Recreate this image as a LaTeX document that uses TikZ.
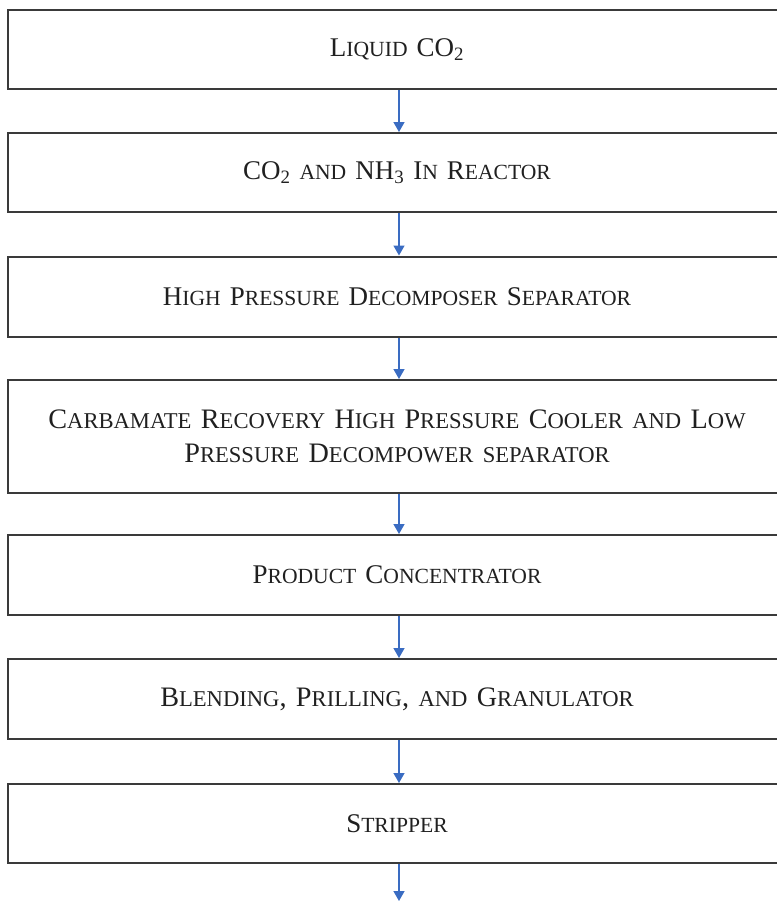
\documentclass[tikz,border=0pt]{standalone}
\usepackage{fontspec}
\setmainfont{Liberation Serif}
\usetikzlibrary{arrows.meta}
\definecolor{arrblue}{HTML}{3A6CC2}
\definecolor{boxline}{HTML}{3A3A3A}
\definecolor{txt}{HTML}{202020}
\newcommand\smc[1]{{\fontsize{21.6}{34}\selectfont #1}}
\newcommand\smcb[1]{{\fontsize{22.6}{34}\selectfont #1}}
\begin{document}
\begin{tikzpicture}[x=1pt,y=-1pt,
  stage/.style={draw=boxline, line width=2pt, rectangle, minimum width=778pt,
    text width=760pt, align=center, text=txt, font=\fontsize{27}{34}\selectfont, inner sep=0pt},
  bigtext/.style={font=\fontsize{28.2}{34}\selectfont},
  flow/.style={draw=arrblue, line width=1.4pt, -{Triangle[width=11pt,length=10pt]}}]
\useasboundingbox (0,0) rectangle (777,903);
\clip (0,0) rectangle (777,903);
\node[stage, minimum height=79pt] (b1) at (397,49.5) {L\smc{IQUID} CO\textsubscript{2}};
\node[stage, minimum height=79pt] (b2) at (397,172.5) {CO\textsubscript{2} \smc{AND} NH\textsubscript{3} I\smc{N} R\smc{EACTOR}};
\node[stage, minimum height=80pt] (b3) at (397,296.5) {H\smc{IGH} P\smc{RESSURE} D\smc{ECOMPOSER} S\smc{EPARATOR}};
\node[stage, bigtext, minimum height=113pt] (b4) at (397,436.5) {C\smcb{ARBAMATE} R\smcb{ECOVERY} H\smcb{IGH} P\smcb{RESSURE} C\smcb{OOLER AND} L\smcb{OW}\\ P\smcb{RESSURE} D\smcb{ECOMPOWER SEPARATOR}};
\node[stage, minimum height=80pt] (b5) at (397,575) {P\smc{RODUCT} C\smc{ONCENTRATOR}};
\node[stage, bigtext, minimum height=80pt] (b6) at (397,699) {B\smcb{LENDING}, P\smcb{RILLING}, \smcb{AND} G\smcb{RANULATOR}};
\node[stage, minimum height=79pt] (b7) at (397,823.5) {S\smc{TRIPPER}};
\coordinate (out) at (399,901);
\draw[flow] ([xshift=2pt]b1.south) -- ([xshift=2pt]b2.north);
\draw[flow] ([xshift=2pt]b2.south) -- ([xshift=2pt]b3.north);
\draw[flow] ([xshift=2pt]b3.south) -- ([xshift=2pt]b4.north);
\draw[flow] ([xshift=2pt]b4.south) -- ([xshift=2pt]b5.north);
\draw[flow] ([xshift=2pt]b5.south) -- ([xshift=2pt]b6.north);
\draw[flow] ([xshift=2pt]b6.south) -- ([xshift=2pt]b7.north);
\draw[flow] ([xshift=2pt]b7.south) -- (out);
\end{tikzpicture}
\end{document}
